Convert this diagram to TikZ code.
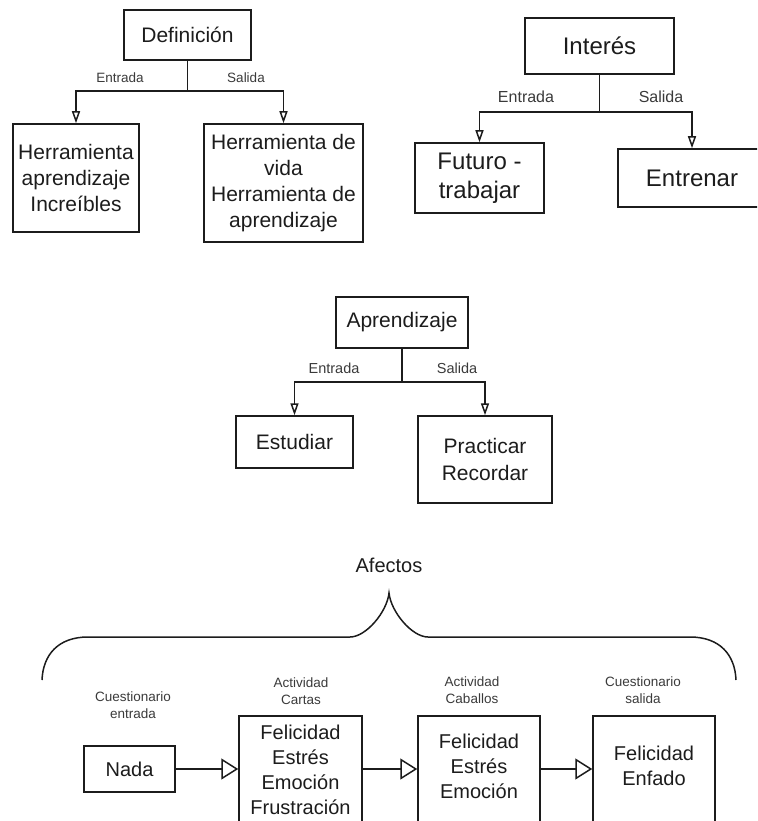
\documentclass[tikz,border=0pt]{standalone}
\usepackage{fontspec}
\setmainfont{Liberation Sans}
\usetikzlibrary{arrows.meta}
\definecolor{ink}{HTML}{1C1C1C}
\definecolor{lbl}{HTML}{3A3A3A}

\tikzset{
  frame/.style={draw=ink, line width=1.5pt, inner sep=0pt, align=center, text=ink},
  body/.style={inner sep=0pt, align=center, text=ink},
  link/.style={draw=ink, line width=1.5pt},
  smallhead/.style={-{Triangle[open, length=12pt, width=8pt]}},
  bighead/.style={-{Triangle[open, length=17pt, width=21pt]}},
  tag/.style={text=lbl, align=center, inner sep=0pt},
  fdef/.style={font=\fontsize{21}{26}\selectfont},
  fint/.style={font=\fontsize{24}{29}\selectfont},
  fapr/.style={font=\fontsize{21}{27}\selectfont},
  faff/.style={font=\fontsize{20}{25}\selectfont},
}

\begin{document}
\begin{tikzpicture}[x=1pt, y=-1pt]
  \useasboundingbox (0,0) rectangle (757,821);
  \clip (0,0) rectangle (757,821);

  % --- Definición ---
  \node[frame, fdef, minimum width=127pt, minimum height=50pt] (def) at (187.5,35) {Definición};
  \node[frame, fdef, minimum width=126pt, minimum height=108pt] (defin) at (76,178)
    {Herramienta\\aprendizaje\\Increíbles};
  \node[frame, fdef, minimum width=159pt, minimum height=118pt] (defout) at (283.5,183)
    {Herramienta de\\vida\\Herramienta de\\aprendizaje};
  \coordinate (dj) at (187.5,91);
  \draw[link] (def) -- (dj);
  \draw[link, smallhead] (dj) -| (defin);
  \draw[link, smallhead] (dj) -| (defout);
  \node[tag, font=\fontsize{13.5}{17}\selectfont] (de) at (120,78) {Entrada};
  \node[tag, font=\fontsize{13.5}{17}\selectfont] (ds) at (246,78) {Salida};

  % --- Interés ---
  \node[frame, fint, minimum width=149pt, minimum height=56pt] (int) at (599.5,46) {Interés};
  \node[frame, fint, minimum width=129pt, minimum height=70pt] (intin) at (479.5,178)
    {Futuro -\\trabajar};
  \node[frame, fint, minimum width=148pt, minimum height=58pt] (intout) at (692,178) {Entrenar};
  \coordinate (ij) at (599.5,112);
  \draw[link] (int) -- (ij);
  \draw[link, smallhead] (ij) -| (intin);
  \draw[link, smallhead] (ij) -| (intout);
  \node[tag, font=\fontsize{16}{20}\selectfont] (ie) at (526,97) {Entrada};
  \node[tag, font=\fontsize{16}{20}\selectfont] (is) at (661,97) {Salida};

  % --- Aprendizaje ---
  \node[frame, fapr, minimum width=132pt, minimum height=51pt] (apr) at (402,322.5) {Aprendizaje};
  \node[frame, fapr, minimum width=117pt, minimum height=52pt] (aprin) at (294.5,442) {Estudiar};
  \node[frame, fapr, minimum width=134pt, minimum height=87pt] (aprout) at (485,459.5)
    {Practicar\\Recordar};
  \coordinate (aj) at (402,382);
  \draw[link] (apr) -- (aj);
  \draw[link, smallhead] (aj) -| (aprin);
  \draw[link, smallhead] (aj) -| (aprout);
  \node[tag, font=\fontsize{14.5}{18}\selectfont] (ae) at (334,368) {Entrada};
  \node[tag, font=\fontsize{14.5}{18}\selectfont] (as) at (457,368) {Salida};

  % --- Afectos: brace over the sequence ---
  \node[body, faff] (afe) at (389,565) {Afectos};
  \coordinate (bl) at (42,680);
  \coordinate (br) at (736,680);
  \coordinate (bt) at (389,593);
  \draw[link]
    (bl) .. controls (43,655) and (58,637) .. (88,637)
    -- (350,637) .. controls (366,637) and (387,612) .. (bt)
    .. controls (391,612) and (412,637) .. (428,637)
    -- (690,637) .. controls (720,637) and (735,655) .. (br);

  % sequence boxes
  \node[frame, faff, minimum width=91pt, minimum height=46pt] (nada) at (129.5,769) {Nada};
  \node[frame, minimum width=123pt, minimum height=130pt, anchor=north] (cartas) at (300.5,715) {};
  \node[frame, minimum width=122pt, minimum height=130pt, anchor=north] (caballos) at (479,715) {};
  \node[frame, minimum width=122pt, minimum height=130pt, anchor=north] (salida) at (654,715) {};
  \node[body, faff] (cartast) at (300.5,769.5) {Felicidad\\Estrés\\Emoción\\Frustración};
  \node[body, faff] (caballost) at (479,766) {Felicidad\\Estrés\\Emoción};
  \node[body, faff] (salidat) at (654,765.5) {Felicidad\\Enfado};

  \draw[link, bighead] (nada) -- (nada -| cartas.west);
  \draw[link, bighead] (nada -| cartas.east) -- (nada -| caballos.west);
  \draw[link, bighead] (nada -| caballos.east) -- (nada -| salida.west);

  \node[tag, font=\fontsize{13.5}{17}\selectfont] (l1) at (133,705.5) {Cuestionario\\entrada};
  \node[tag, font=\fontsize{13.5}{17}\selectfont] (l2) at (301,691) {Actividad\\Cartas};
  \node[tag, font=\fontsize{13.5}{17}\selectfont] (l3) at (472,690.5) {Actividad\\Caballos};
  \node[tag, font=\fontsize{13.5}{17}\selectfont] (l4) at (643,690.5) {Cuestionario\\salida};
\end{tikzpicture}
\end{document}
